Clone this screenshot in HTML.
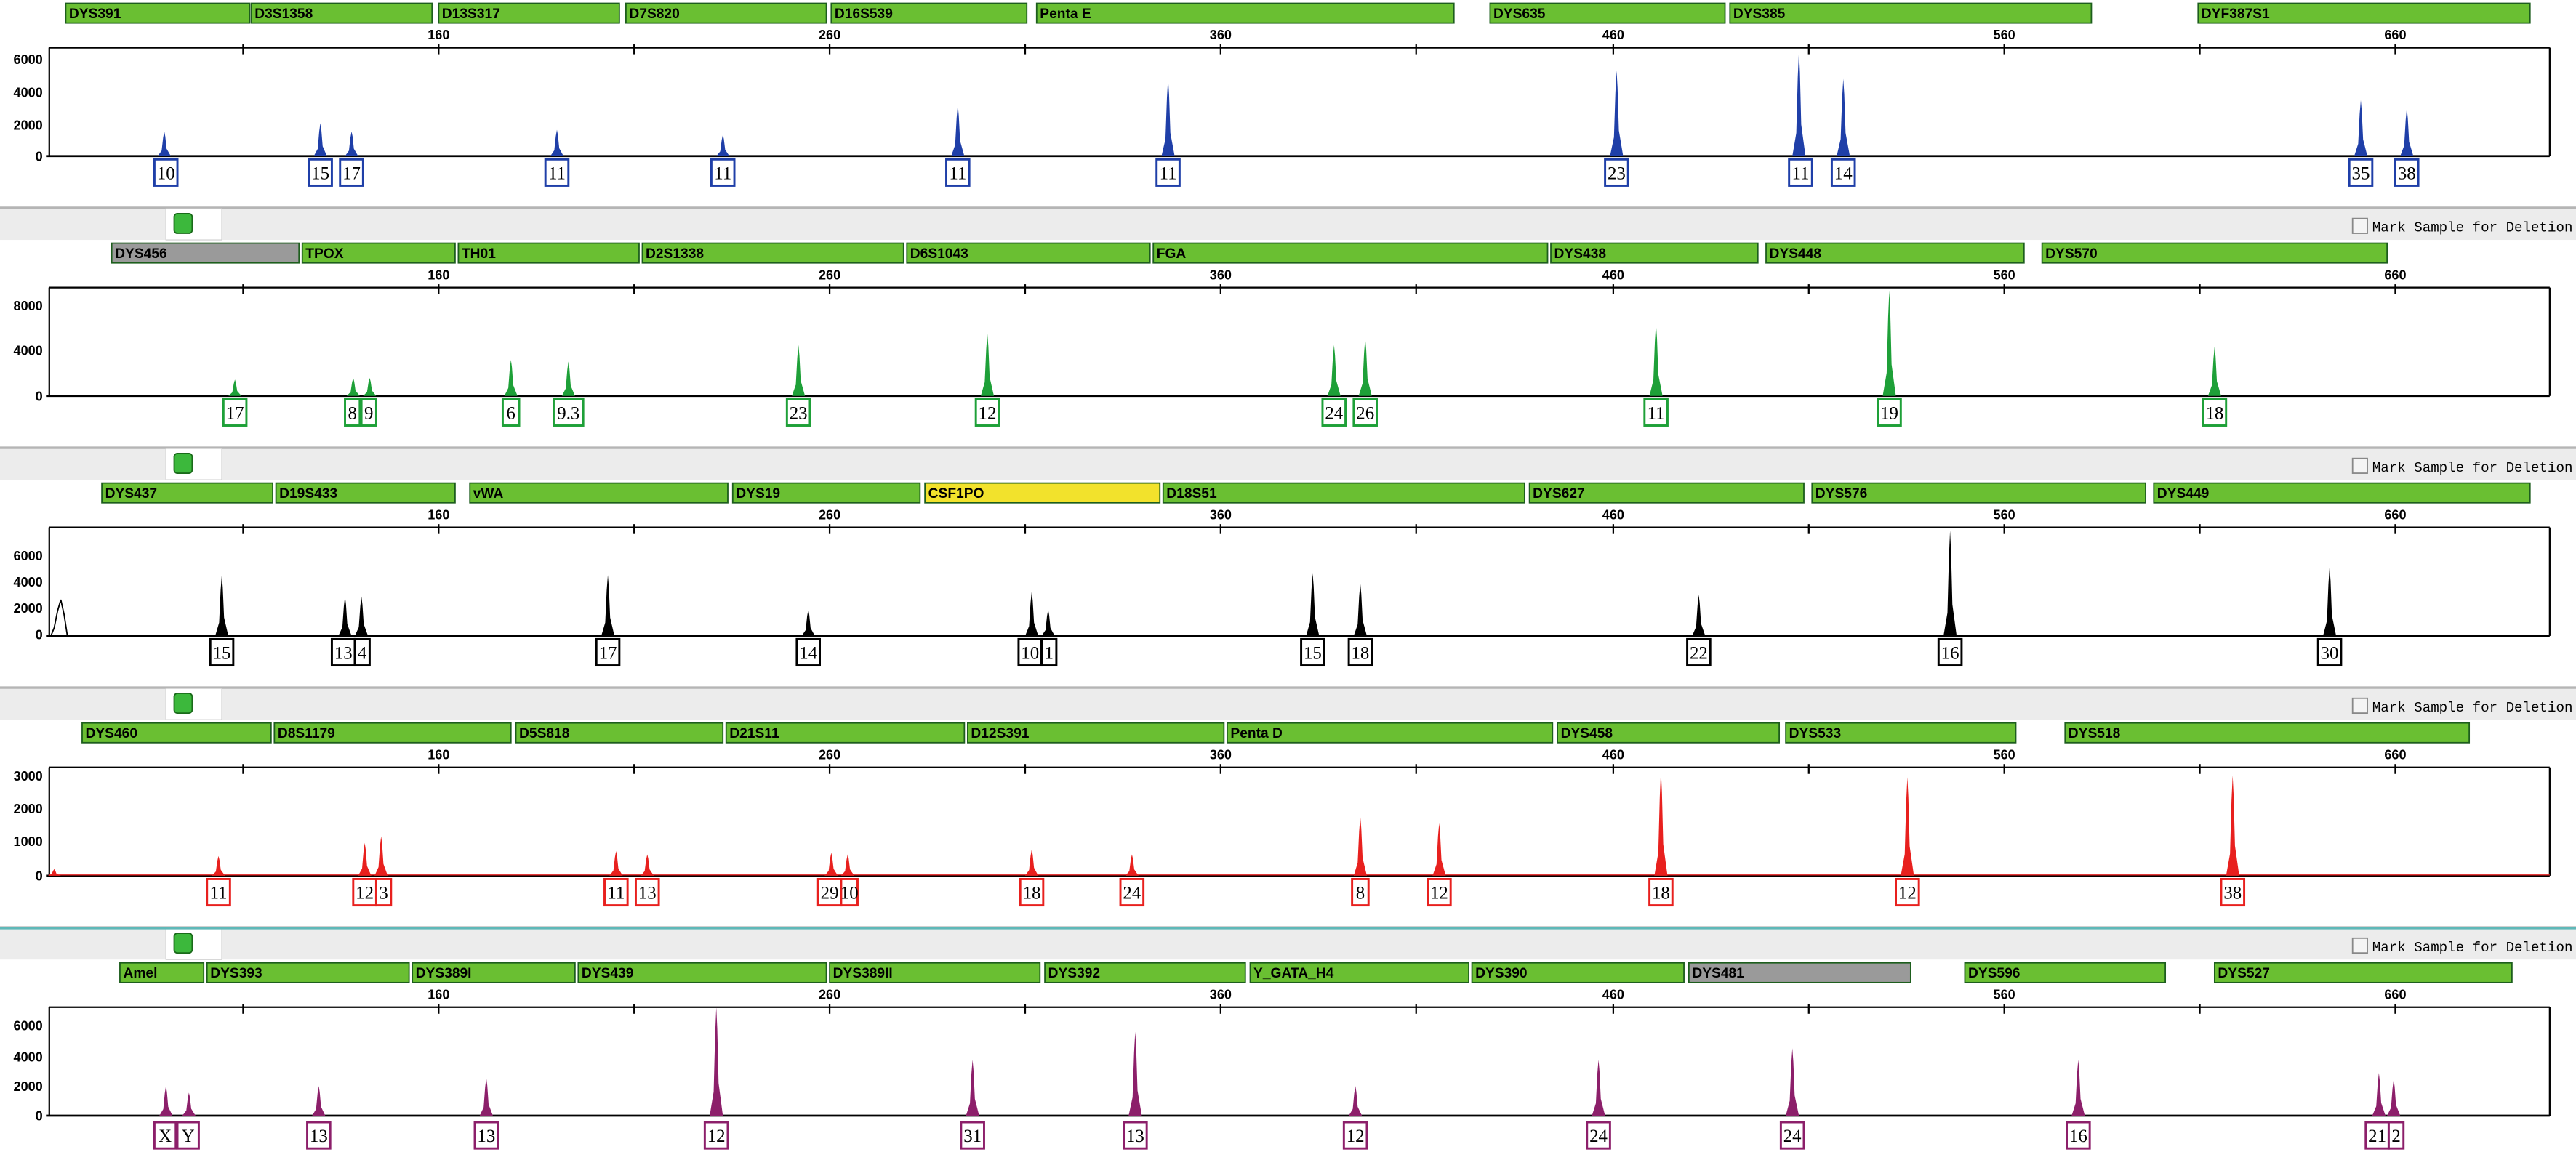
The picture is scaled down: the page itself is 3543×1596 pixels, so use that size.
<!DOCTYPE html>
<html><head><meta charset="utf-8"><style>
html,body{margin:0;padding:0;background:#fff;overflow:hidden}
svg{display:block}
.mk{font:bold 8.5px "Liberation Sans",sans-serif;fill:#000}
.tk{font:bold 8px "Liberation Sans",sans-serif;fill:#000}
.lb{font:11px "Liberation Serif",serif;fill:#000}
.md{font:8.5px "Liberation Mono",monospace;fill:#000}
</style></head><body>
<svg width="3543" height="1596" viewBox="0 0 1568 706" preserveAspectRatio="none" xmlns="http://www.w3.org/2000/svg">
<defs>
<path id="pk" d="M-4,0 L-1.6,-0.22 L-0.7,-0.75 L0,-1 L0.6,-0.8 L1.4,-0.3 L4,0Z"/>
<g id="axis">
<line x1="30" y1="29" x2="1552" y2="29" stroke="#000" stroke-width="1"/>
<line x1="1552" y1="29" x2="1552" y2="95" stroke="#000" stroke-width="1"/>
<line x1="30" y1="29" x2="30" y2="95" stroke="#000" stroke-width="1"/>
<line x1="28" y1="95" x2="1552" y2="95" stroke="#000" stroke-width="1.2"/>
<g stroke="#000" stroke-width="1">
<line x1="148" y1="27" x2="148" y2="33"/><line x1="267" y1="27" x2="267" y2="33"/><line x1="386" y1="27" x2="386" y2="33"/><line x1="505" y1="27" x2="505" y2="33"/><line x1="624" y1="27" x2="624" y2="33"/><line x1="743" y1="27" x2="743" y2="33"/><line x1="862" y1="27" x2="862" y2="33"/><line x1="982" y1="27" x2="982" y2="33"/><line x1="1101" y1="27" x2="1101" y2="33"/><line x1="1220" y1="27" x2="1220" y2="33"/><line x1="1339" y1="27" x2="1339" y2="33"/><line x1="1458" y1="27" x2="1458" y2="33"/>
</g>
<g class="tk" text-anchor="middle"><text x="267" y="24">160</text><text x="505" y="24">260</text><text x="743" y="24">360</text><text x="982" y="24">460</text><text x="1220" y="24">560</text><text x="1458" y="24">660</text></g>
</g>
<g id="sep">
<rect x="0" y="126" width="1568" height="20" fill="#ececec"/>
<line x1="0" y1="126.5" x2="1568" y2="126.5" stroke="#b5b5b5" stroke-width="1.5"/>
<rect x="101" y="127" width="34" height="19" fill="#fff" stroke="#ccc" stroke-width="0.5"/>
<rect x="106" y="130" width="11" height="12" rx="2" fill="#3cb83c" stroke="#1a6a1a" stroke-width="0.8"/>
<rect x="1432" y="133" width="9" height="9" fill="#f4f4f4" stroke="#888" stroke-width="0.8"/>
<text class="md" x="1444" y="141" textLength="122" lengthAdjust="spacingAndGlyphs">Mark Sample for Deletion</text>
</g>
</defs>

<!-- PANEL 1 -->
<g>
<use href="#axis"/><use href="#sep"/>
<g fill="#6abf32" stroke="#1d5e1d" stroke-width="0.8">
<rect x="40" y="2" width="112" height="12"/><rect x="153" y="2" width="110" height="12"/><rect x="267" y="2" width="110" height="12"/><rect x="381" y="2" width="122" height="12"/><rect x="506" y="2" width="119" height="12"/><rect x="631" y="2" width="254" height="12"/><rect x="907" y="2" width="143" height="12"/><rect x="1053" y="2" width="220" height="12"/><rect x="1338" y="2" width="202" height="12"/>
</g>
<g class="mk"><text x="42" y="11">DYS391</text><text x="155" y="11">D3S1358</text><text x="269" y="11">D13S317</text><text x="383" y="11">D7S820</text><text x="508" y="11">D16S539</text><text x="633" y="11">Penta E</text><text x="909" y="11">DYS635</text><text x="1055" y="11">DYS385</text><text x="1340" y="11">DYF387S1</text></g>
<g class="tk" text-anchor="end"><text x="26" y="39">6000</text><text x="26" y="59">4000</text><text x="26" y="79">2000</text><text x="26" y="98">0</text></g>
<g fill="#1f3fa8">
<use href="#pk" transform="translate(100,95) scale(1,15)"/><use href="#pk" transform="translate(195,95) scale(1,20)"/><use href="#pk" transform="translate(214,95) scale(1,15)"/><use href="#pk" transform="translate(339,95) scale(1,16)"/><use href="#pk" transform="translate(440,95) scale(1,13)"/><use href="#pk" transform="translate(583,95) scale(1,31)"/><use href="#pk" transform="translate(711,95) scale(1,47)"/><use href="#pk" transform="translate(984,95) scale(1,52)"/><use href="#pk" transform="translate(1095,95) scale(1,64)"/><use href="#pk" transform="translate(1122,95) scale(1,47)"/><use href="#pk" transform="translate(1437,95) scale(1,34)"/><use href="#pk" transform="translate(1465,95) scale(1,29)"/>
</g>
<g fill="#fff" stroke="#1f3fa8" stroke-width="1.3">
<rect x="94" y="97" width="14" height="16"/><rect x="188" y="97" width="14" height="16"/><rect x="207" y="97" width="14" height="16"/><rect x="332" y="97" width="14" height="16"/><rect x="433" y="97" width="14" height="16"/><rect x="576" y="97" width="14" height="16"/><rect x="704" y="97" width="14" height="16"/><rect x="977" y="97" width="14" height="16"/><rect x="1089" y="97" width="14" height="16"/><rect x="1115" y="97" width="14" height="16"/><rect x="1430" y="97" width="14" height="16"/><rect x="1458" y="97" width="14" height="16"/>
</g>
<g class="lb" text-anchor="middle"><text x="101" y="109">10</text><text x="195" y="109">15</text><text x="214" y="109">17</text><text x="339" y="109">11</text><text x="440" y="109">11</text><text x="583" y="109">11</text><text x="711" y="109">11</text><text x="984" y="109">23</text><text x="1096" y="109">11</text><text x="1122" y="109">14</text><text x="1437" y="109">35</text><text x="1465" y="109">38</text></g>
</g>

<!-- PANEL 2 -->
<g transform="translate(0,146)">
<use href="#axis"/><use href="#sep"/>
<g fill="#6abf32" stroke="#1d5e1d" stroke-width="0.8">
<rect x="68" y="2" width="114" height="12" fill="#9a9a9a"/><rect x="184" y="2" width="93" height="12"/><rect x="279" y="2" width="110" height="12"/><rect x="391" y="2" width="159" height="12"/><rect x="552" y="2" width="148" height="12"/><rect x="702" y="2" width="240" height="12"/><rect x="944" y="2" width="126" height="12"/><rect x="1075" y="2" width="157" height="12"/><rect x="1243" y="2" width="210" height="12"/>
</g>
<g class="mk"><text x="70" y="11">DYS456</text><text x="186" y="11">TPOX</text><text x="281" y="11">TH01</text><text x="393" y="11">D2S1338</text><text x="554" y="11">D6S1043</text><text x="704" y="11">FGA</text><text x="946" y="11">DYS438</text><text x="1077" y="11">DYS448</text><text x="1245" y="11">DYS570</text></g>
<g class="tk" text-anchor="end"><text x="26" y="43">8000</text><text x="26" y="70">4000</text><text x="26" y="98">0</text></g>
<g fill="#1ea038">
<use href="#pk" transform="translate(143,95) scale(1,10)"/><use href="#pk" transform="translate(215,95) scale(1,11)"/><use href="#pk" transform="translate(225,95) scale(1,11)"/><use href="#pk" transform="translate(311,95) scale(1,22)"/><use href="#pk" transform="translate(346,95) scale(1,21)"/><use href="#pk" transform="translate(486,95) scale(1,31)"/><use href="#pk" transform="translate(601,95) scale(1,38)"/><use href="#pk" transform="translate(812,95) scale(1,31)"/><use href="#pk" transform="translate(831,95) scale(1,35)"/><use href="#pk" transform="translate(1008,95) scale(1,44)"/><use href="#pk" transform="translate(1150,95) scale(1,64)"/><use href="#pk" transform="translate(1348,95) scale(1,30)"/>
</g>
<g fill="#fff" stroke="#1ea038" stroke-width="1.3">
<rect x="136" y="97" width="14" height="16"/><rect x="210" y="97" width="9" height="16"/><rect x="220" y="97" width="9" height="16"/><rect x="306" y="97" width="10" height="16"/><rect x="337" y="97" width="18" height="16"/><rect x="479" y="97" width="14" height="16"/><rect x="594" y="97" width="14" height="16"/><rect x="805" y="97" width="14" height="16"/><rect x="824" y="97" width="14" height="16"/><rect x="1001" y="97" width="14" height="16"/><rect x="1143" y="97" width="14" height="16"/><rect x="1341" y="97" width="14" height="16"/>
</g>
<g class="lb" text-anchor="middle"><text x="143" y="109">17</text><text x="214.5" y="109">8</text><text x="224.5" y="109">9</text><text x="311" y="109">6</text><text x="346" y="109">9.3</text><text x="486" y="109">23</text><text x="601" y="109">12</text><text x="812" y="109">24</text><text x="831" y="109">26</text><text x="1008" y="109">11</text><text x="1150" y="109">19</text><text x="1348" y="109">18</text></g>
</g>

<!-- PANEL 3 -->
<g transform="translate(0,292)">
<use href="#axis"/><use href="#sep"/>
<g fill="#6abf32" stroke="#1d5e1d" stroke-width="0.8">
<rect x="62" y="2" width="104" height="12"/><rect x="168" y="2" width="109" height="12"/><rect x="286" y="2" width="157" height="12"/><rect x="446" y="2" width="114" height="12"/><rect x="563" y="2" width="143" height="12" fill="#f2e22c"/><rect x="708" y="2" width="220" height="12"/><rect x="931" y="2" width="167" height="12"/><rect x="1103" y="2" width="203" height="12"/><rect x="1311" y="2" width="229" height="12"/>
</g>
<g class="mk"><text x="64" y="11">DYS437</text><text x="170" y="11">D19S433</text><text x="288" y="11">vWA</text><text x="448" y="11">DYS19</text><text x="565" y="11">CSF1PO</text><text x="710" y="11">D18S51</text><text x="933" y="11">DYS627</text><text x="1105" y="11">DYS576</text><text x="1313" y="11">DYS449</text></g>
<g class="tk" text-anchor="end"><text x="26" y="49">6000</text><text x="26" y="65">4000</text><text x="26" y="81">2000</text><text x="26" y="97">0</text></g>
<path d="M31,95 L33,90 L35,80 L37,73 L39,82 L41,95Z" fill="none" stroke="#000" stroke-width="0.8"/>
<g fill="#000">
<use href="#pk" transform="translate(135,95) scale(1,37)"/><use href="#pk" transform="translate(210,95) scale(1,24)"/><use href="#pk" transform="translate(220,95) scale(1,24)"/><use href="#pk" transform="translate(370,95) scale(1,37)"/><use href="#pk" transform="translate(492,95) scale(1,16)"/><use href="#pk" transform="translate(628,95) scale(1,27)"/><use href="#pk" transform="translate(638,95) scale(1,16)"/><use href="#pk" transform="translate(799,95) scale(1,38)"/><use href="#pk" transform="translate(828,95) scale(1,32)"/><use href="#pk" transform="translate(1034,95) scale(1,25)"/><use href="#pk" transform="translate(1187,95) scale(1,64)"/><use href="#pk" transform="translate(1418,95) scale(1,42)"/>
</g>
<g fill="#fff" stroke="#000" stroke-width="1.3">
<rect x="128" y="97" width="14" height="16"/><rect x="202" y="97" width="14" height="16"/><rect x="216" y="97" width="9" height="16"/><rect x="363" y="97" width="14" height="16"/><rect x="485" y="97" width="14" height="16"/><rect x="620" y="97" width="14" height="16"/><rect x="634" y="97" width="9" height="16"/><rect x="792" y="97" width="14" height="16"/><rect x="821" y="97" width="14" height="16"/><rect x="1027" y="97" width="14" height="16"/><rect x="1180" y="97" width="14" height="16"/><rect x="1411" y="97" width="14" height="16"/>
</g>
<g class="lb" text-anchor="middle"><text x="135" y="109">15</text><text x="209" y="109">13</text><text x="220.5" y="109">4</text><text x="370" y="109">17</text><text x="492" y="109">14</text><text x="627" y="109">10</text><text x="638.5" y="109">1</text><text x="799" y="109">15</text><text x="828" y="109">18</text><text x="1034" y="109">22</text><text x="1187" y="109">16</text><text x="1418" y="109">30</text></g>
</g>

<!-- PANEL 4 -->
<g transform="translate(0,438)">
<use href="#axis"/><use href="#sep"/>
<g fill="#6abf32" stroke="#1d5e1d" stroke-width="0.8">
<rect x="50" y="2" width="115" height="12"/><rect x="167" y="2" width="144" height="12"/><rect x="314" y="2" width="126" height="12"/><rect x="442" y="2" width="145" height="12"/><rect x="589" y="2" width="156" height="12"/><rect x="747" y="2" width="198" height="12"/><rect x="948" y="2" width="135" height="12"/><rect x="1087" y="2" width="140" height="12"/><rect x="1257" y="2" width="246" height="12"/>
</g>
<g class="mk"><text x="52" y="11">DYS460</text><text x="169" y="11">D8S1179</text><text x="316" y="11">D5S818</text><text x="444" y="11">D21S11</text><text x="591" y="11">D12S391</text><text x="749" y="11">Penta D</text><text x="950" y="11">DYS458</text><text x="1089" y="11">DYS533</text><text x="1259" y="11">DYS518</text></g>
<g class="tk" text-anchor="end"><text x="26" y="37">3000</text><text x="26" y="57">2000</text><text x="26" y="77">1000</text><text x="26" y="98">0</text></g>
<line x1="30" y1="94.5" x2="1552" y2="94.5" stroke="#e02020" stroke-width="0.6"/>
<g fill="#e8201e">
<use href="#pk" transform="translate(33,95) scale(1,4)"/><use href="#pk" transform="translate(133,95) scale(1,12)"/><use href="#pk" transform="translate(222,95) scale(1,20)"/><use href="#pk" transform="translate(232,95) scale(1,24)"/><use href="#pk" transform="translate(375,95) scale(1,15)"/><use href="#pk" transform="translate(394,95) scale(1,13)"/><use href="#pk" transform="translate(506,95) scale(1,14)"/><use href="#pk" transform="translate(516,95) scale(1,13)"/><use href="#pk" transform="translate(628,95) scale(1,16)"/><use href="#pk" transform="translate(689,95) scale(1,13)"/><use href="#pk" transform="translate(828,95) scale(1,36)"/><use href="#pk" transform="translate(876,95) scale(1,32)"/><use href="#pk" transform="translate(1011,95) scale(1,64)"/><use href="#pk" transform="translate(1161,95) scale(1,60)"/><use href="#pk" transform="translate(1359,95) scale(1,61)"/>
</g>
<g fill="#fff" stroke="#e8201e" stroke-width="1.3">
<rect x="126" y="97" width="14" height="16"/><rect x="215" y="97" width="14" height="16"/><rect x="229" y="97" width="9" height="16"/><rect x="368" y="97" width="14" height="16"/><rect x="387" y="97" width="14" height="16"/><rect x="498" y="97" width="14" height="16"/><rect x="512" y="97" width="10" height="16"/><rect x="621" y="97" width="14" height="16"/><rect x="682" y="97" width="14" height="16"/><rect x="823" y="97" width="10" height="16"/><rect x="869" y="97" width="14" height="16"/><rect x="1004" y="97" width="14" height="16"/><rect x="1154" y="97" width="14" height="16"/><rect x="1352" y="97" width="14" height="16"/>
</g>
<g class="lb" text-anchor="middle"><text x="133" y="109">11</text><text x="222" y="109">12</text><text x="233.5" y="109">3</text><text x="375" y="109">11</text><text x="394" y="109">13</text><text x="505" y="109">29</text><text x="517" y="109">10</text><text x="628" y="109">18</text><text x="689" y="109">24</text><text x="828" y="109">8</text><text x="876" y="109">12</text><text x="1011" y="109">18</text><text x="1161" y="109">12</text><text x="1359" y="109">38</text></g>
</g>
<line x1="0" y1="565" x2="1568" y2="565" stroke="#5fb8b8" stroke-width="1.2"/>

<!-- PANEL 5 -->
<g transform="translate(0,584)">
<use href="#axis"/>
<g fill="#6abf32" stroke="#1d5e1d" stroke-width="0.8">
<rect x="73" y="2" width="51" height="12"/><rect x="126" y="2" width="123" height="12"/><rect x="251" y="2" width="99" height="12"/><rect x="352" y="2" width="151" height="12"/><rect x="505" y="2" width="128" height="12"/><rect x="636" y="2" width="122" height="12"/><rect x="761" y="2" width="133" height="12"/><rect x="896" y="2" width="129" height="12"/><rect x="1028" y="2" width="135" height="12" fill="#9a9a9a"/><rect x="1196" y="2" width="122" height="12"/><rect x="1348" y="2" width="181" height="12"/>
</g>
<g class="mk"><text x="75" y="11">Amel</text><text x="128" y="11">DYS393</text><text x="253" y="11">DYS389I</text><text x="354" y="11">DYS439</text><text x="507" y="11">DYS389II</text><text x="638" y="11">DYS392</text><text x="763" y="11">Y_GATA_H4</text><text x="898" y="11">DYS390</text><text x="1030" y="11">DYS481</text><text x="1198" y="11">DYS596</text><text x="1350" y="11">DYS527</text></g>
<g class="tk" text-anchor="end"><text x="26" y="43">6000</text><text x="26" y="62">4000</text><text x="26" y="80">2000</text><text x="26" y="98">0</text></g>
<g fill="#8c1f6a">
<use href="#pk" transform="translate(101,95) scale(1,18)"/><use href="#pk" transform="translate(115,95) scale(1,14)"/><use href="#pk" transform="translate(194,95) scale(1,18)"/><use href="#pk" transform="translate(296,95) scale(1,23)"/><use href="#pk" transform="translate(436,95) scale(1,66)"/><use href="#pk" transform="translate(592,95) scale(1,34)"/><use href="#pk" transform="translate(691,95) scale(1,51)"/><use href="#pk" transform="translate(825,95) scale(1,18)"/><use href="#pk" transform="translate(973,95) scale(1,34)"/><use href="#pk" transform="translate(1091,95) scale(1,41)"/><use href="#pk" transform="translate(1265,95) scale(1,34)"/><use href="#pk" transform="translate(1448,95) scale(1,26)"/><use href="#pk" transform="translate(1457,95) scale(1,22)"/>
</g>
<g fill="#fff" stroke="#8c1f6a" stroke-width="1.3">
<rect x="94" y="99" width="13" height="16"/><rect x="108" y="99" width="13" height="16"/><rect x="187" y="99" width="14" height="16"/><rect x="289" y="99" width="14" height="16"/><rect x="429" y="99" width="14" height="16"/><rect x="585" y="99" width="14" height="16"/><rect x="684" y="99" width="14" height="16"/><rect x="818" y="99" width="14" height="16"/><rect x="966" y="99" width="14" height="16"/><rect x="1084" y="99" width="14" height="16"/><rect x="1258" y="99" width="14" height="16"/><rect x="1440" y="99" width="14" height="16"/><rect x="1454" y="99" width="9" height="16"/>
</g>
<g class="lb" text-anchor="middle"><text x="100.5" y="111">X</text><text x="114.5" y="111">Y</text><text x="194" y="111">13</text><text x="296" y="111">13</text><text x="436" y="111">12</text><text x="592" y="111">31</text><text x="691" y="111">13</text><text x="825" y="111">12</text><text x="973" y="111">24</text><text x="1091" y="111">24</text><text x="1265" y="111">16</text><text x="1447" y="111">21</text><text x="1458.5" y="111">2</text></g>
</g>
</svg>
</body></html>
